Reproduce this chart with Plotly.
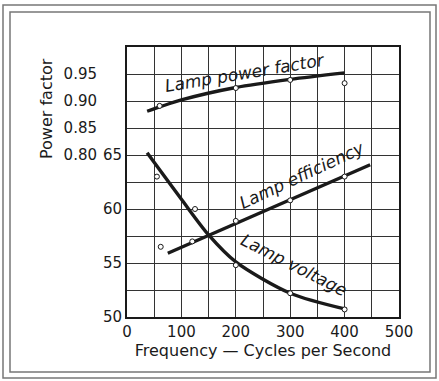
import plotly.graph_objects as go

# ---- data ----
freq_ticks = [0, 50, 100, 150, 200, 250, 300, 350, 400, 450, 500]
freq_ticktext = ["0", "", "100", "", "200", "", "300", "", "400", "", "500"]
pct_ticks = [50, 52.5, 55, 57.5, 60, 62.5, 65, 67.5, 70, 72.5, 75]
pct_ticktext = ["50", "", "55", "", "60", "", "65", "", "", "", ""]
pf_ticks = [0.80, 0.85, 0.90, 0.95]
pf_ticktext = ["0.80", "0.85", "0.90", "0.95"]

# fitted curves
pf_curve_x = [37, 60, 100, 200, 300, 400]
pf_curve_y = [0.881, 0.889, 0.902, 0.925, 0.940, 0.952]
eff_curve_x = [75, 447]
eff_curve_y = [55.9, 64.1]
volt_curve_x = [37, 100, 150, 200, 300, 404]
volt_curve_y = [65.2, 60.9, 57.6, 55.1, 52.2, 50.7]

# measured points
pf_pts_x = [60, 200, 300, 400]
pf_pts_y = [0.891, 0.924, 0.939, 0.933]
eff_pts_x = [62, 120, 200, 300, 400]
eff_pts_y = [56.5, 57.0, 58.9, 60.8, 63.0]
volt_pts_x = [55, 125, 200, 300, 400]
volt_pts_y = [63.0, 60.0, 54.8, 52.2, 50.7]

INK = "#1a1a1a"
FONT = "DejaVu Sans"

fig = go.Figure()
line_style = dict(color=INK, width=3.4, shape="spline", smoothing=0.8)
mk = dict(symbol="circle", size=5, color="white", line=dict(color=INK, width=1))

fig.add_trace(go.Scatter(x=pf_curve_x, y=pf_curve_y, mode="lines", line=line_style, yaxis="y2"))
fig.add_trace(go.Scatter(x=eff_curve_x, y=eff_curve_y, mode="lines", line=dict(color=INK, width=3.4)))
fig.add_trace(go.Scatter(x=volt_curve_x, y=volt_curve_y, mode="lines", line=line_style))
fig.add_trace(go.Scatter(x=pf_pts_x, y=pf_pts_y, mode="markers", marker=mk, yaxis="y2"))
fig.add_trace(go.Scatter(x=eff_pts_x, y=eff_pts_y, mode="markers", marker=mk))
fig.add_trace(go.Scatter(x=volt_pts_x, y=volt_pts_y, mode="markers", marker=mk))

W, H = 439, 381
ml, mr, mt, mb = 60, 40, 47, 64
pw = W - ml - mr
ph = H - mt - mb
plot_left = 127
dom0 = (plot_left - ml) / pw

def px(p):
    return (p - ml) / pw

def py(p):
    return (H - mb - p) / ph

fig.update_layout(
    width=W, height=H,
    margin=dict(l=ml, r=mr, t=mt, b=mb),
    paper_bgcolor="white", plot_bgcolor="white",
    showlegend=False,
    font=dict(family=FONT, size=15, color=INK),
    xaxis=dict(
        domain=[dom0, 1], range=[0, 500],
        tickvals=freq_ticks, ticktext=freq_ticktext,
        showgrid=True, gridcolor="#333", gridwidth=1,
        showline=True, linecolor=INK, linewidth=2, mirror=True,
        zeroline=False, ticks="", tickfont=dict(size=15),
        title=dict(text="Frequency \u2014 Cycles per Second", font=dict(size=16), standoff=4),
    ),
    yaxis=dict(
        range=[50, 75], anchor="x",
        tickvals=pct_ticks, ticktext=pct_ticktext,
        showgrid=True, gridcolor="#333", gridwidth=1,
        showline=True, linecolor=INK, linewidth=2, mirror=True,
        zeroline=False, ticks="", tickfont=dict(size=15),
    ),
    yaxis2=dict(
        range=[0.5, 1.0], overlaying="y", anchor="free", side="left",
        position=(97 - ml) / pw,
        tickvals=pf_ticks, ticktext=pf_ticktext,
        showgrid=False, showline=False, zeroline=False, ticks="",
        tickfont=dict(size=15),
    ),
)

# frames
fig.add_shape(type="rect", xref="paper", yref="paper",
              x0=px(3), x1=px(436), y0=py(378), y1=py(5),
              line=dict(color="#777", width=1.5), layer="below")
fig.add_shape(type="rect", xref="paper", yref="paper",
              x0=px(10), x1=px(430), y0=py(372), y1=py(12),
              line=dict(color="#777", width=1.5), layer="below")

# annotations
fig.add_annotation(text="Power factor", xref="paper", yref="paper",
                   x=px(46), y=py(109), textangle=-90, showarrow=False,
                   font=dict(size=16), xanchor="center", yanchor="middle")
ital = dict(size=17, family=FONT, color=INK)
fig.add_annotation(text="<i>Lamp power factor</i>", xref="paper", yref="paper",
                   x=px(244), y=py(73), textangle=-9.5, showarrow=False, font=ital,
                   xanchor="center", yanchor="middle")
fig.add_annotation(text="<i>Lamp efficiency</i>", xref="paper", yref="paper",
                   x=px(302), y=py(175), textangle=-25, showarrow=False, font=ital,
                   xanchor="center", yanchor="middle")
fig.add_annotation(text="<i>Lamp voltage</i>", xref="paper", yref="paper",
                   x=px(294), y=py(265), textangle=27, showarrow=False, font=ital,
                   xanchor="center", yanchor="middle")

fig.write_html("out.html", config={"displayModeBar": False},
               post_script="document.body.style.margin='0';")
